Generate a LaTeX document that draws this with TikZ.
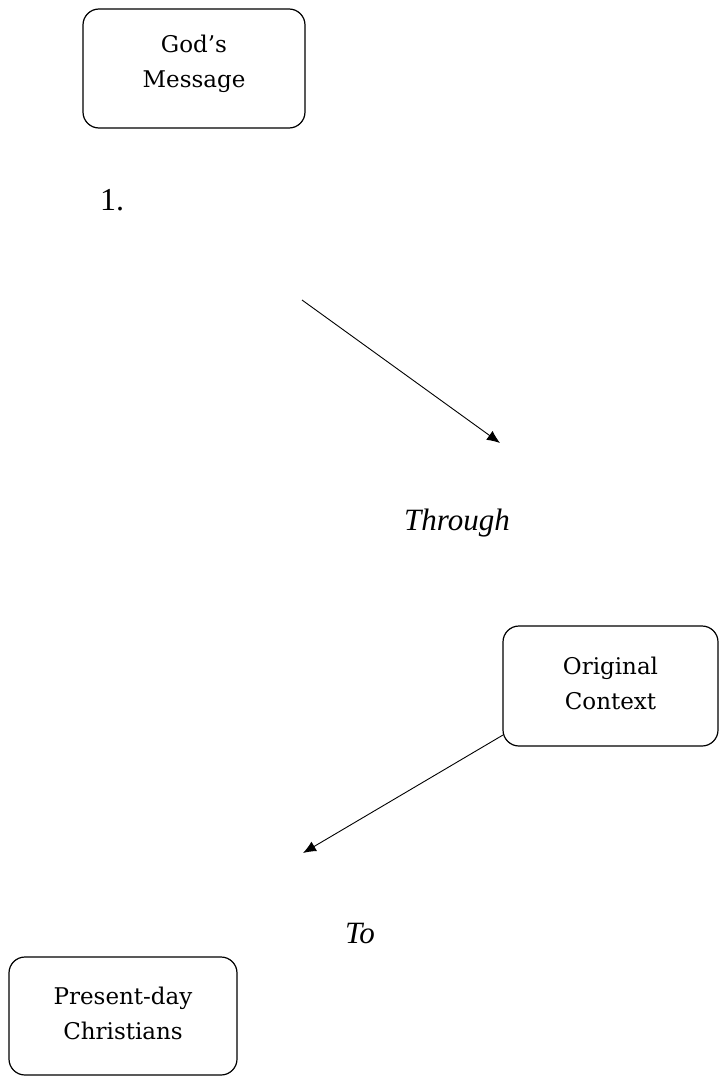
\documentclass[tikz,border=0pt]{standalone}
\usepackage{fontspec}
\setmainfont{Liberation Serif}
\newfontfamily\boxfont{DejaVu Serif}
\usetikzlibrary{arrows.meta,calc}
\begin{document}
\begin{tikzpicture}[x=1pt,y=-1pt,
  rbox/.style={draw, line width=1.2pt, rounded corners=16pt, inner sep=0pt},
  btxt/.style={font=\boxfont\fontsize{23}{35}\selectfont, align=center, inner sep=0pt},
  lbl/.style={font=\itshape\fontsize{31}{36}\selectfont, inner sep=0pt, anchor=base},
  num/.style={font=\fontsize{32}{36}\selectfont, inner sep=0pt, anchor=base west},
  conn/.style={line width=0.9pt, -{Latex[length=13pt,width=11pt]}}]
\useasboundingbox (0,0) rectangle (719,1076);
% boxes
\node[rbox, minimum width=222pt, minimum height=119pt] (gm) at (194,68.5) {};
\node[btxt] (gmt) at ($(gm.center)+(0,-5)$) {God’s\\Message};
\node[rbox, minimum width=215pt, minimum height=120pt] (oc) at (610.5,686) {};
\node[btxt] (oct) at ($(oc.center)+(0,-3)$) {Original\\Context};
\node[rbox, minimum width=228pt, minimum height=118pt] (pc) at (123,1016) {};
\node[btxt] (pct) at ($(pc.center)+(0,-3)$) {Present-day\\Christians};
% labels
\node[num] (one) at (100,210) {1.};
\node[lbl] (thr) at (457,530) {Through};
\node[lbl] (to) at (360,943) {To};
% connectors
\coordinate (a1s) at (302,300);
\coordinate (a1e) at (500,443);
\coordinate (a2s) at (503,735);
\coordinate (a2e) at (303,853);
\draw[conn] (a1s) -- (a1e);
\draw[conn] (a2s) -- (a2e);
\end{tikzpicture}
\end{document}
